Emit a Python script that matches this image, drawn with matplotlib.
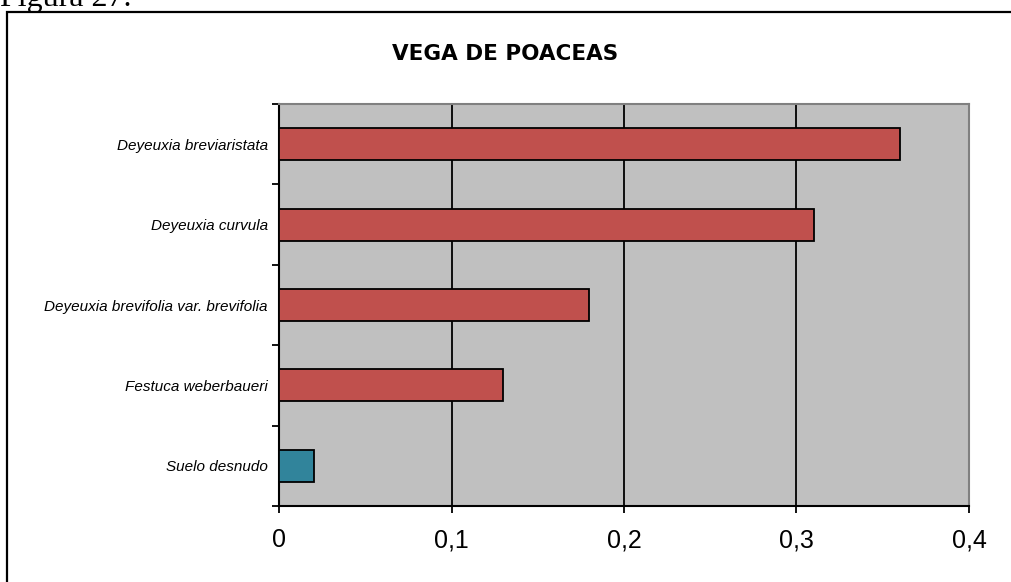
import matplotlib
matplotlib.use("Agg")
import matplotlib.pyplot as plt
from matplotlib.patches import Rectangle
from matplotlib.ticker import FixedLocator

categories = ["Deyeuxia breviaristata", "Deyeuxia curvula",
              "Deyeuxia brevifolia var. brevifolia", "Festuca weberbaueri",
              "Suelo desnudo"]
values = [0.36, 0.31, 0.18, 0.13, 0.02]
bar_colors = ["#C0504D", "#C0504D", "#C0504D", "#C0504D", "#31849B"]
x_ticks = [0, 0.1, 0.2, 0.3, 0.4]
x_tick_labels = ["0", "0,1", "0,2", "0,3", "0,4"]
title = "VEGA DE POACEAS"

W, H = 1012, 582
fig = plt.figure(figsize=(W / 100, H / 100), dpi=100)
fig.patch.set_facecolor("white")

# caption above the chart box (partly cut off at top, as in the reference)
fig.text(0 / W, 1 - 6 / H, "Figura 27.", family="Liberation Serif",
         fontsize=23, ha="left", va="baseline")

# outer chart border
fig.add_artist(Rectangle((7 / W, -0.1), 1.2, 1 - 12 / H + 0.1,
                         transform=fig.transFigure, fill=False,
                         edgecolor="black", linewidth=1.6, clip_on=False))

ax = fig.add_axes([279 / W, 76 / H, 690 / W, 402 / H])
ax.set_facecolor("#C0C0C0")

ypos = list(range(len(categories)))
ax.barh(ypos, values, height=0.4, color=bar_colors, edgecolor="black",
        linewidth=1.3, zorder=3)

ax.set_xlim(0, 0.4)
ax.set_ylim(len(categories) - 0.5, -0.5)

ax.set_xticks(x_ticks)
ax.set_xticklabels(x_tick_labels, family="Liberation Sans", fontsize=18)
ax.xaxis.grid(True, color="black", linewidth=1.3, zorder=1)
ax.set_axisbelow(True)
ax.tick_params(axis="x", direction="out", length=5, width=1.3, pad=11,
               color="black")

ax.set_yticks(ypos)
ax.set_yticklabels(categories, family="Liberation Sans", style="italic",
                   fontsize=11)
ax.yaxis.set_minor_locator(FixedLocator([i + 0.5 for i in range(-1, len(categories))]))
ax.tick_params(axis="y", which="major", length=0, pad=8)
ax.tick_params(axis="y", which="minor", direction="out", length=5, width=1.3,
               color="black")

for side in ["left", "bottom"]:
    ax.spines[side].set_color("black")
    ax.spines[side].set_linewidth(1.5)
for side in ["top", "right"]:
    ax.spines[side].set_color("#808080")
    ax.spines[side].set_linewidth(1.5)

fig.text(505 / W, 1 - 54 / H, title, family="DejaVu Sans", fontweight="bold",
         fontsize=15.5, ha="center", va="center")

fig.savefig("out.png", dpi=100)
